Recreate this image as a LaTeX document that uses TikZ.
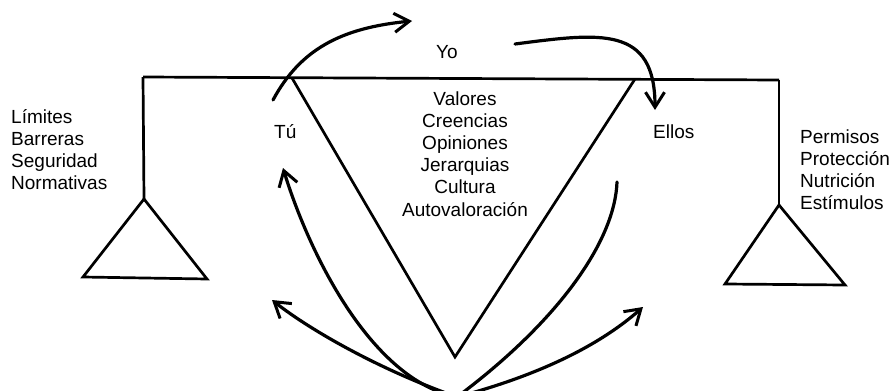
\documentclass[tikz,border=0pt]{standalone}
\usepackage{fontspec}
\setmainfont{Liberation Sans}
\usetikzlibrary{arrows.meta}
\tikzset{
  lbl/.style={inner sep=0pt, font=\fontsize{19}{22}\selectfont},
  frame/.style={line width=2.7pt, line join=miter},
  curve/.style={line width=3.2pt, line cap=round},
  arr/.style={curve, -{Straight Barb[length=15pt,width=19pt,line width=3pt]}}
}
\begin{document}
\begin{tikzpicture}[x=1pt,y=-1pt]
\useasboundingbox (0,0) rectangle (892,391);
\begin{scope}
\clip (0,0) rectangle (892,391);
% coordinates
\coordinate (barL) at (143,77);
\coordinate (barR) at (779,80);
\coordinate (apexL) at (144,199);
\coordinate (baseLl) at (83,277);
\coordinate (baseLr) at (207,279);
\coordinate (apexR) at (779,205);
\coordinate (baseRl) at (725,284);
\coordinate (baseRr) at (845,285);
\coordinate (vL) at (292,78);
\coordinate (vB) at (455,357);
\coordinate (vR) at (635,79);
\coordinate (src) at (457,397);
\coordinate (a1s) at (273,100);
\coordinate (a1e) at (412,21);
\coordinate (a2s) at (515,44);
\coordinate (a2e) at (655,110);
\coordinate (a3e) at (283,168);
\coordinate (a4e) at (617,182);
\coordinate (a5e) at (272,300);
\coordinate (a6e) at (643,307);
% frame
\draw[frame] (barL) -- (barR);
\draw[frame] (barL) -- (apexL);
\draw[frame] (apexL) -- (baseLl) -- (baseLr) -- cycle;
\draw[frame] (barR) -- (apexR);
\draw[frame] (apexR) -- (baseRl) -- (baseRr) -- cycle;
\draw[frame] (vL) -- (vB) -- (vR);
% curves
\draw[arr] (a1s) .. controls (300,50) and (340,28) .. (a1e);
\draw[arr] (a2s) .. controls (600,33) and (655,25) .. (a2e);
\draw[arr] (src) .. controls (370,380) and (308,250) .. (a3e);
\draw[curve] (src) .. controls (560,320) and (615,240) .. (a4e);
\draw[arr] (src) .. controls (380,370) and (310,330) .. (a5e);
\draw[arr] (src) .. controls (540,375) and (600,345) .. (a6e);
\end{scope}
% labels
\node[lbl, anchor=base west] (yo) at (436,58) {Yo};
\node[lbl, anchor=base west] (tu) at (274,138) {Tú};
\node[lbl, anchor=base west] (ellos) at (653,138) {Ellos};
\foreach \t [count=\i] in {Límites,Barreras,Seguridad,Normativas}
  \node[lbl, anchor=base west] (left\i) at (11,{123+22*(\i-1)}) {\t};
\foreach \t [count=\i] in {Permisos,Protección,Nutrición,Estímulos}
  \node[lbl, anchor=base west] (right\i) at (800,{143+22*(\i-1)}) {\t};
\foreach \t [count=\i] in {Valores,Creencias,Opiniones,Jerarquias,Cultura,Autovaloración}
  \node[lbl, anchor=base] (mid\i) at (465,{105+22.2*(\i-1)}) {\t};
\end{tikzpicture}
\end{document}
